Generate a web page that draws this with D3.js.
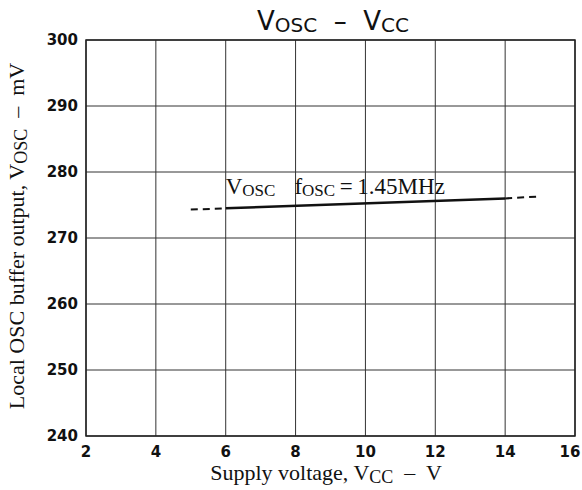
<!DOCTYPE html>
<html><head><meta charset="utf-8">
<script src="https://cdn.jsdelivr.net/npm/d3@7"></script>
<style>body{margin:0;background:#fff}</style>
</head><body>
<script>
const xTicks = [2,4,6,8,10,12,14,16];
const yTicks = [240,250,260,270,280,290,300];
const solidX = [6,14];
const solidY = [274.5,276.0];
const dashLeftX = [5,6];
const dashLeftY = [274.3,274.5];
const dashRightX = [14,15];
const dashRightY = [276.0,276.3];

const W=582,H=490;
const m={l:86,r:575,t:40,b:436};
const svg=d3.select("body").append("svg").attr("width",W).attr("height",H);
const x=d3.scaleLinear().domain([2,16]).range([m.l,m.r]);
const y=d3.scaleLinear().domain([240,300]).range([m.b,m.t]);

const g=svg.append("g");
g.selectAll(".vg").data(xTicks).join("line")
 .attr("x1",d=>x(d)).attr("x2",d=>x(d)).attr("y1",m.t).attr("y2",m.b)
 .attr("stroke","#333").attr("stroke-width",1);
g.selectAll(".hg").data(yTicks).join("line")
 .attr("y1",d=>y(d)).attr("y2",d=>y(d)).attr("x1",m.l).attr("x2",m.r)
 .attr("stroke","#333").attr("stroke-width",1);
g.append("rect").attr("x",m.l).attr("y",m.t).attr("width",m.r-m.l).attr("height",m.b-m.t)
 .attr("fill","none").attr("stroke","#222").attr("stroke-width",1.5);

const tf="'DejaVu Sans', sans-serif";
svg.selectAll(".xt").data(xTicks).join("text")
 .attr("x",(d,i)=>x(d)-(i===xTicks.length-1?5:0)).attr("y",m.b+21).attr("text-anchor","middle")
 .attr("font-family",tf).attr("font-size",15).attr("font-weight","bold").attr("fill","#111")
 .text(d=>d);
svg.selectAll(".yt").data(yTicks).join("text")
 .attr("x",m.l-8).attr("y",d=>y(d)+5).attr("text-anchor","end")
 .attr("font-family",tf).attr("font-size",15).attr("font-weight","bold").attr("fill","#111")
 .text(d=>d);

const line=d3.line().x(d=>x(d[0])).y(d=>y(d[1]));
const pts=(xs,ys)=>xs.map((v,i)=>[v,ys[i]]);
svg.append("path").attr("d",line(pts(solidX,solidY))).attr("fill","none").attr("stroke","#111").attr("stroke-width",2.5);
[pts(dashLeftX,dashLeftY),pts(dashRightX,dashRightY)].forEach(p=>{
 svg.append("path").attr("d",line(p)).attr("fill","none").attr("stroke","#111").attr("stroke-width",2).attr("stroke-dasharray","7,5");
});

const serif="'Liberation Serif', 'Times New Roman', serif";
const lab=svg.append("text").attr("x",x(6)).attr("y",y(276.7)).attr("font-family",serif).attr("font-size",23).attr("fill","#111");
lab.append("tspan").text("V");
lab.append("tspan").attr("font-size",17).attr("dy",2).text("OSC");
lab.append("tspan").attr("dx",19).attr("dy",-2).text("f");
lab.append("tspan").attr("font-size",17).attr("dy",2).text("OSC");
lab.append("tspan").attr("dy",-2).text("\u2009=\u20091.45MHz");

const title=svg.append("text").attr("x",333).attr("y",30).attr("text-anchor","middle")
 .attr("font-family",tf).attr("font-size",26).attr("fill","#111").attr("style","white-space:pre");
title.append("tspan").text("V");
title.append("tspan").attr("font-size",20).attr("dy",2).text("OSC");
title.append("tspan").attr("dy",-2).text("  \u2013  ");
title.append("tspan").text("V");
title.append("tspan").attr("font-size",20).attr("dy",2).text("CC");

const xl=svg.append("text").attr("x",326).attr("y",480).attr("text-anchor","middle")
 .attr("font-family",serif).attr("font-size",22).attr("fill","#111").attr("style","white-space:pre");
xl.append("tspan").text("Supply voltage, V");
xl.append("tspan").attr("font-size",18).attr("dy",3).text("CC");
xl.append("tspan").attr("dy",-3).text("  \u2013  V");

const yl=svg.append("text").attr("transform","translate(24,236) rotate(-90)").attr("text-anchor","middle")
 .attr("font-family",serif).attr("font-size",22).attr("fill","#111").attr("style","white-space:pre");
yl.append("tspan").text("Local OSC buffer output, V");
yl.append("tspan").attr("font-size",18).attr("dy",3).text("OSC");
yl.append("tspan").attr("dy",-3).text("  \u2013  mV");
</script>
</body></html>
